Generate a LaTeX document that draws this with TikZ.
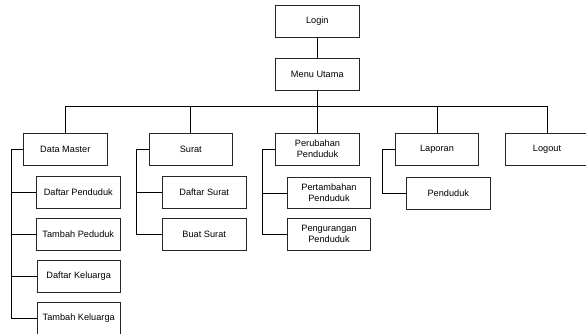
\documentclass[tikz,border=0pt]{standalone}
\usepackage{fontspec}
\setmainfont{Liberation Sans}
\begin{document}
\begin{tikzpicture}[x=1pt,y=-1pt,
  menubox/.style={draw=black!85,line width=0.9pt,minimum width=83.5pt,minimum height=31.5pt,
    align=center,inner sep=1pt,font=\fontsize{9.2}{11}\selectfont},
  link/.style={draw=black,line width=0.9pt}]
\useasboundingbox (0,0) rectangle (586,333);
\clip (0,0) rectangle (586,333);

% top level
\node[menubox] (login) at (317.3,21.3) {Login};
\node[menubox] (menu) at (317.3,74.2) {Menu Utama};

% main menu entries
\node[menubox] (dm)  at (65.3,149.2)  {Data Master};
\node[menubox] (sr)  at (190.8,149.2) {Surat};
\node[menubox] (pp)  at (317.5,149.2) {Perubahan\\Penduduk};
\node[menubox] (lp)  at (437,149.2)   {Laporan};
\node[menubox] (lo)  at (547,149.2)   {Logout};

% Data Master submenu
\node[menubox] (dp) at (78.3,192.5) {Daftar Penduduk};
\node[menubox] (tp) at (78.3,234.2) {Tambah Peduduk};
\node[menubox] (dk) at (78.7,276.5) {Daftar Keluarga};
\node[menubox] (tk) at (78.7,318.3) {Tambah Keluarga};

% Surat submenu
\node[menubox] (ds) at (204.2,192.5) {Daftar Surat};
\node[menubox] (bs) at (204.2,234.2) {Buat Surat};

% Perubahan Penduduk submenu
\node[menubox] (pt) at (329,193) {Pertambahan\\Penduduk};
\node[menubox] (pg) at (329,234.3) {Pengurangan\\Penduduk};

% Laporan submenu
\node[menubox] (pd) at (448.3,193.5) {Penduduk};

% connectors
\draw[link] (login.south) -- (menu.north);
\coordinate (bus) at (317.3,106);
\draw[link] (menu.south) -- (bus);
\foreach \n in {dm,sr,pp,lp,lo} \draw[link] (bus) -| (\n.north);

\coordinate (dmspine) at ([xshift=-11.6pt]dm.west);
\draw[link] (dm.west) -- (dmspine);
\foreach \n in {dp,tp,dk,tk} \draw[link] (dmspine) |- (\n.west);

\coordinate (srspine) at ([xshift=-12.3pt]sr.west);
\draw[link] (sr.west) -- (srspine);
\foreach \n in {ds,bs} \draw[link] (srspine) |- (\n.west);

\coordinate (ppspine) at ([xshift=-12.4pt]pp.west);
\draw[link] (pp.west) -- (ppspine);
\foreach \n in {pt,pg} \draw[link] (ppspine) |- (\n.west);

\coordinate (lpspine) at ([xshift=-12.3pt]lp.west);
\draw[link] (lp.west) -- (lpspine) |- (pd.west);
\end{tikzpicture}
\end{document}
